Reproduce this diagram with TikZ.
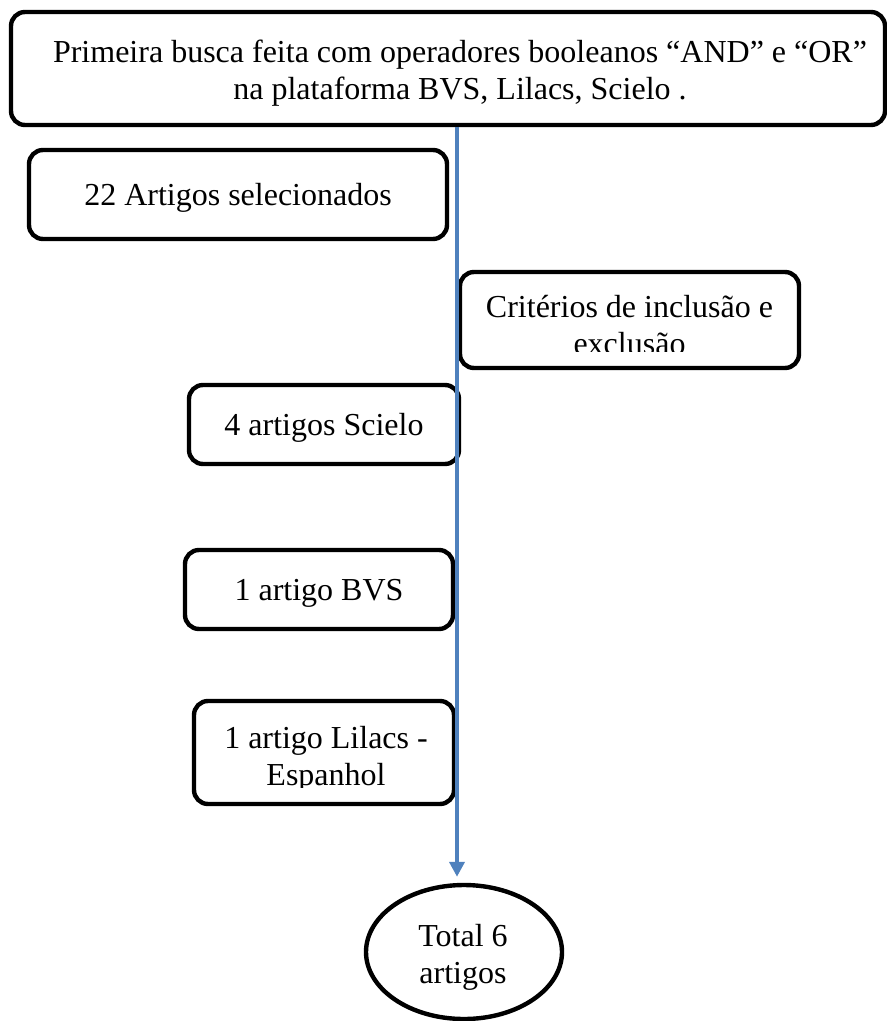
\documentclass[tikz,border=0pt]{standalone}
\usepackage{fontspec}
\setmainfont{Liberation Serif}
\usepackage{tikz}
\usetikzlibrary{arrows.meta,shapes.geometric}

\definecolor{azul}{RGB}{79,129,189}

\begin{document}
\begin{tikzpicture}[x=0.5pt,y=-0.5pt,
        caixa/.style={draw,rounded corners=7pt,line width=2.2pt,inner sep=0pt,
                      font=\fontsize{16pt}{18.5pt}\selectfont,text depth=0pt},
        texto/.style={inner sep=0pt,align=center,font=\fontsize{16pt}{18.5pt}\selectfont},
        fluxo/.style={draw=azul,line width=2pt,-{Triangle[width=7.5pt,length=7.5pt]}}]
\useasboundingbox (0,0) rectangle (887,1021);

        	\node[caixa,minimum width=437pt,minimum height=56.5pt]  (busca) at (448,68.5) {};
        	\node[texto] (buscatxt) at (460,73) {Primeira busca feita com operadores booleanos “AND” e “OR”\\na plataforma BVS, Lilacs, Scielo .};

  			\node[caixa,minimum width=209pt,minimum height=44.5pt] (sel) at (238,194.5) {22 Artigos selecionados};

           \node[caixa,minimum width=169.5pt,minimum height=48pt] (crit) at (629.5,320) {};
           \begin{scope}
           \clip (crit.north west) rectangle (crit.east |- 0,351);
           \node[texto] (crittxt) at (629.5,325) {Critérios de inclusão e\\exclusão};
           \end{scope}

           \node[caixa,minimum width=135pt,minimum height=39.5pt] (scielo) at (324,424.5) {4 artigos Scielo};
		   \node[caixa,minimum width=134pt,minimum height=39.5pt] (bvs) at (319,589.5) {1 artigo BVS};

           \node[caixa,minimum width=130pt,minimum height=51.5pt] (lilacs) at (324,752.5) {};
           \begin{scope}
           \clip (lilacs.north west) rectangle (lilacs.east |- 0,787);
           \node[texto] (lilacstxt) at (326,759) {1 artigo Lilacs -\\Espanhol};
           \end{scope}

            \node[draw,ellipse,line width=2.2pt,minimum width=98pt,minimum height=67pt,inner sep=0pt] (total) at (464,952) {};
            \node[texto] (totaltxt) at (463,957.5) {Total 6\\artigos};

            \coordinate (eixo) at (457,0);
  			\path[fluxo] (busca.south -| eixo) -- ([yshift=3pt]total.north -| eixo);
\end{tikzpicture}
\end{document}
